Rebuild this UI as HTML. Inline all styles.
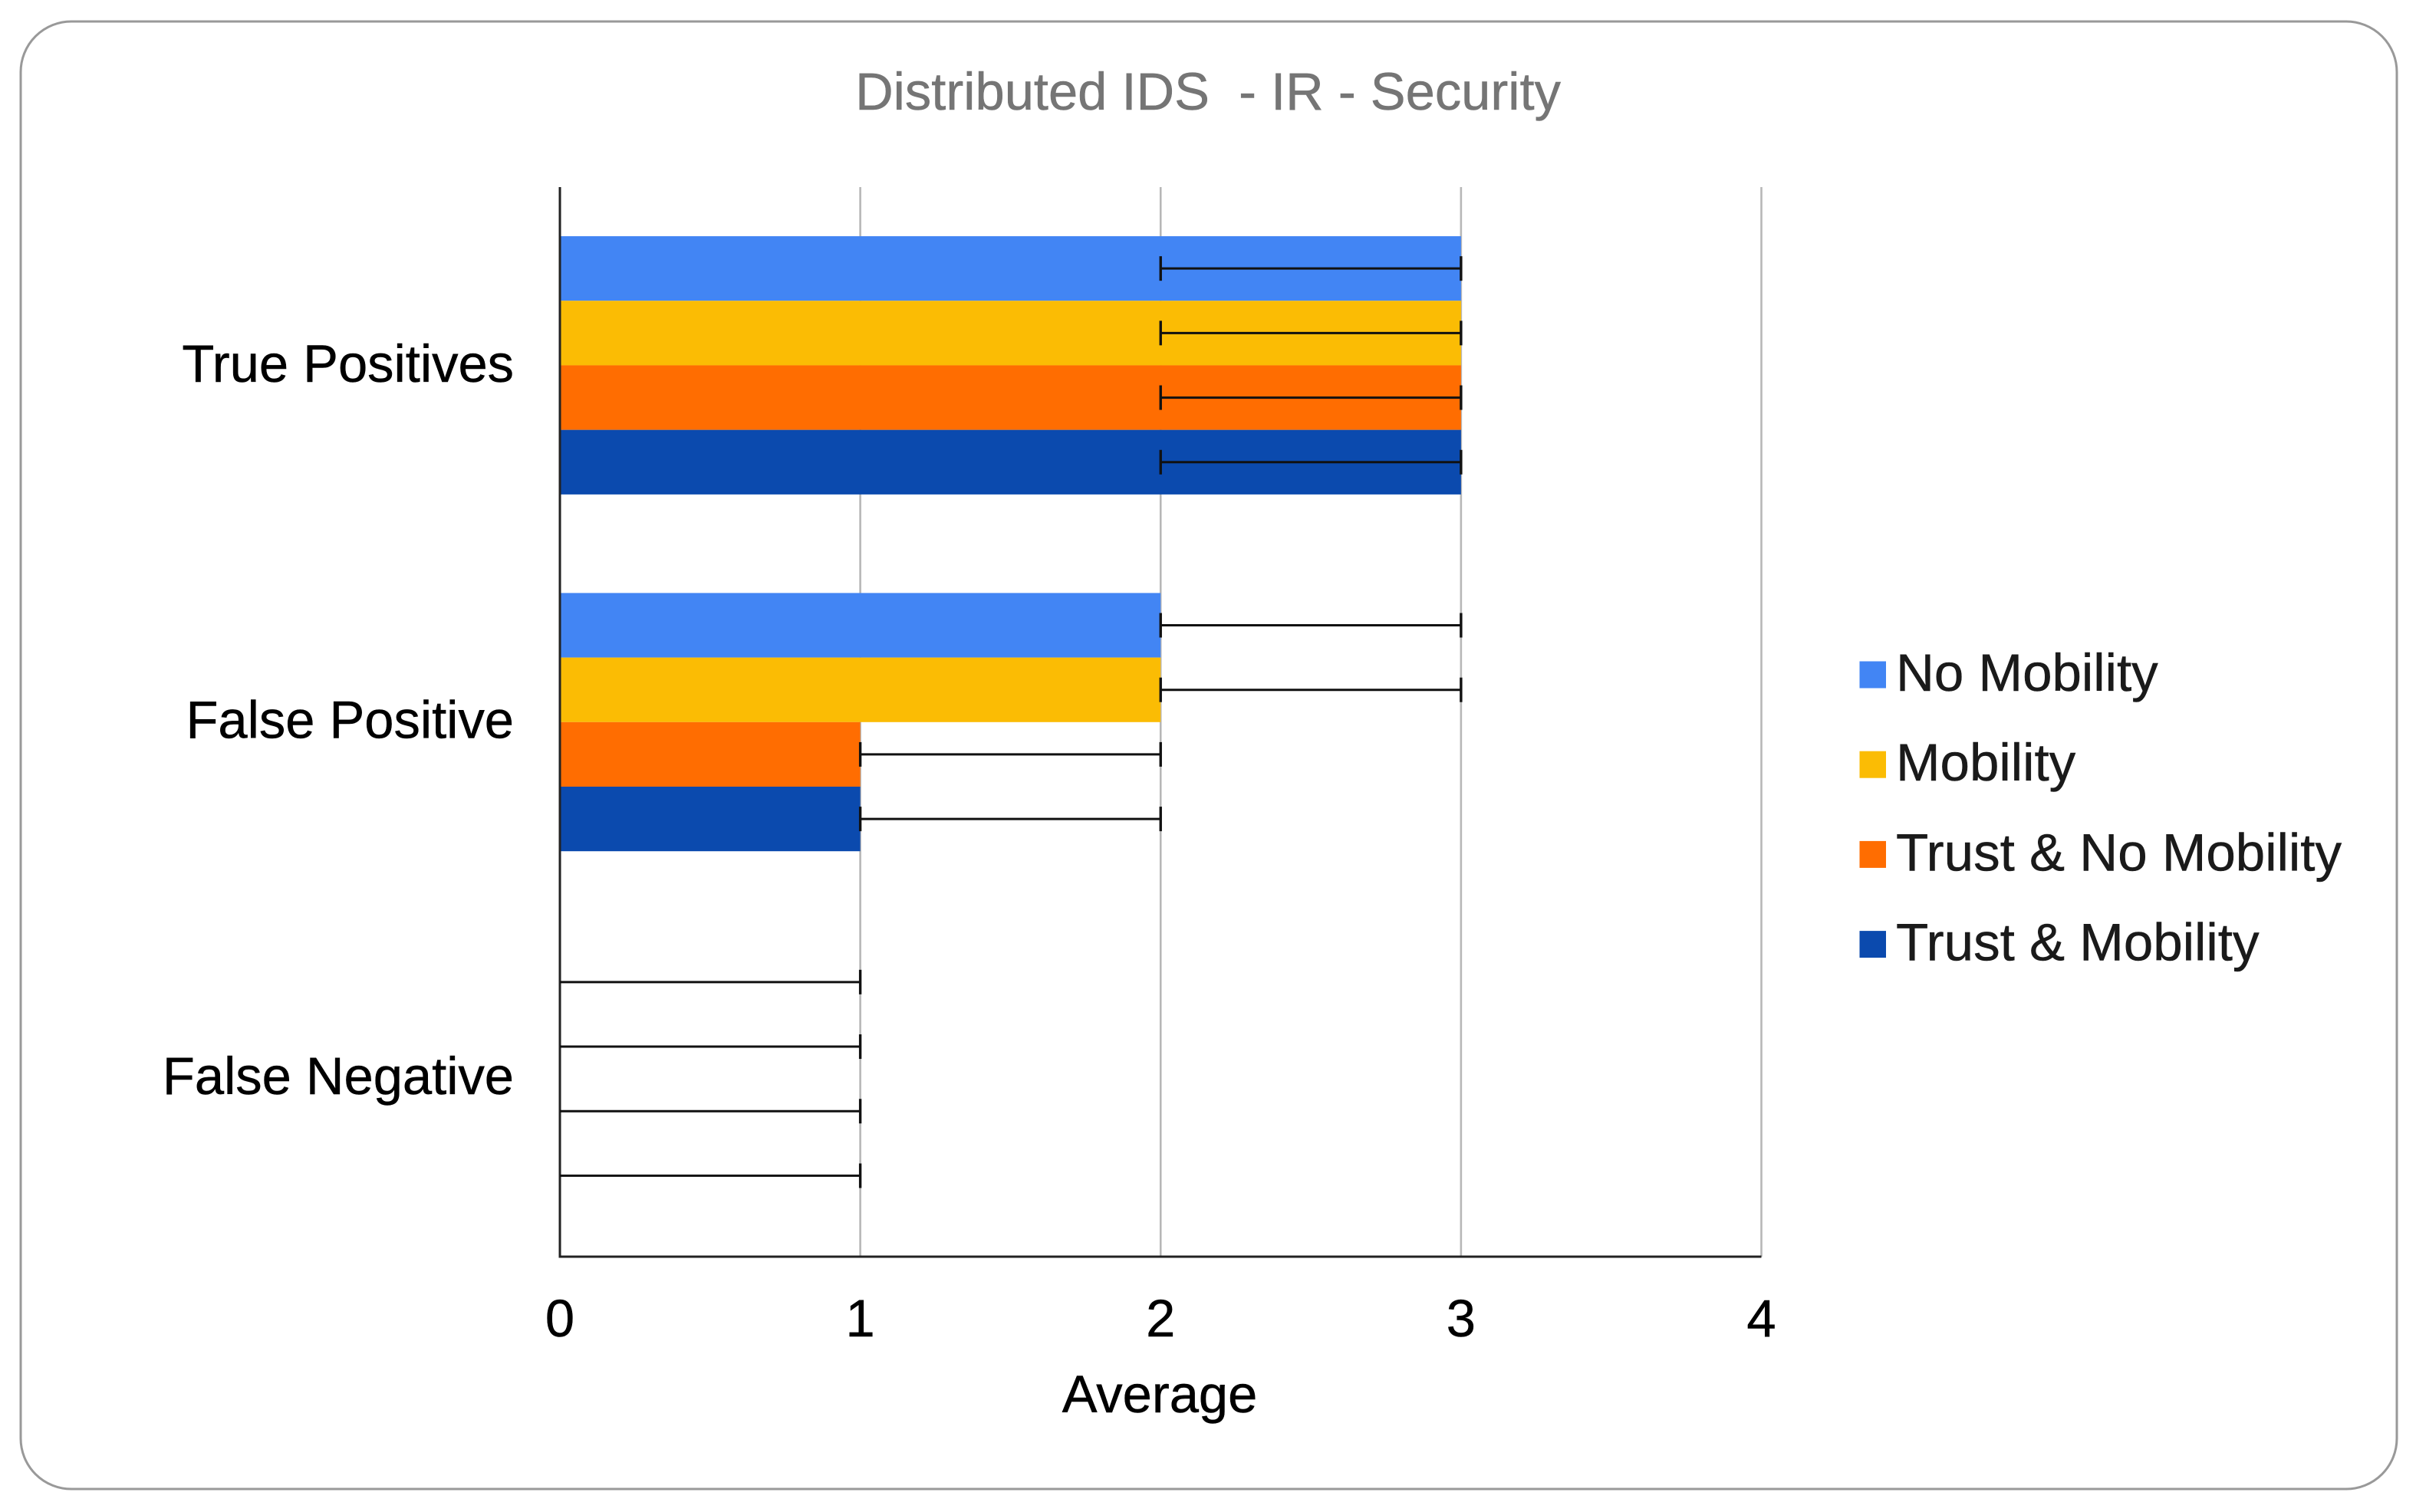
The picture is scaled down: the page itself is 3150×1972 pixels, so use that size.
<!DOCTYPE html>
<html lang="en">
<head>
<meta charset="utf-8">
<title>Distributed IDS - IR - Security</title>
<style>
html,body{margin:0;padding:0;background:#fff;width:3150px;height:1972px;overflow:hidden}
svg{display:block;position:absolute;left:0;top:0}
text{font-family:"Liberation Sans",Arial,sans-serif;font-size:68.7px;white-space:pre;stroke:currentColor;stroke-width:0.5px}
</style>
</head>
<body>
<svg id="chart" width="3150" height="1972" viewBox="0 0 3150 1972" xmlns="http://www.w3.org/2000/svg">
  <rect x="27" y="28" width="3098" height="1914" rx="66" ry="66" fill="#ffffff" stroke="#999999" stroke-width="3"/>
  <text x="1575" y="143" text-anchor="middle" fill="#757575" color="#757575" xml:space="preserve">Distributed IDS  - IR - Security</text>
  <g id="grid"></g>
  <g id="bars"></g>
  <g id="axes"></g>
  <g id="errors"></g>
  <g id="labels"></g>
  <text x="1512" y="1842" text-anchor="middle" fill="#000000" color="#000000">Average</text>
  <g id="legend"></g>
</svg>
<script>
const categories = ["True Positives", "False Positive", "False Negative"];
const seriesNames = ["No Mobility", "Mobility", "Trust & No Mobility", "Trust & Mobility"];
const seriesColors = ["#4285f4", "#fbbc04", "#ff6d01", "#0b4aae"];
const noMobility = [3, 2, 0];
const mobility = [3, 2, 0];
const trustNoMobility = [3, 1, 0];
const trustMobility = [3, 1, 0];
const errLowNoMobility = [2, 2, 0];
const errLowMobility = [2, 2, 0];
const errLowTrustNoMobility = [2, 1, 0];
const errLowTrustMobility = [2, 1, 0];
const errHighNoMobility = [3, 3, 1];
const errHighMobility = [3, 3, 1];
const errHighTrustNoMobility = [3, 2, 1];
const errHighTrustMobility = [3, 2, 1];
const xTicks = [0, 1, 2, 3, 4];
const xMax = 4;

const seriesValues = [noMobility, mobility, trustNoMobility, trustMobility];
const seriesLow = [errLowNoMobility, errLowMobility, errLowTrustNoMobility, errLowTrustMobility];
const seriesHigh = [errHighNoMobility, errHighMobility, errHighTrustNoMobility, errHighTrustMobility];

const NS = "http://www.w3.org/2000/svg";
const plotLeft = 730, plotRight = 2296.5, plotTop = 243, plotBottom = 1639;
const band = (plotBottom - plotTop) / categories.length;
const barH = 84.2;

function xScale(v) { return plotLeft + (plotRight - plotLeft) * v / xMax; }
function catCenter(i) { return plotTop + band * (i + 0.5); }
function barTop(c, s) { return catCenter(c) + 0.8 - barH * seriesValues.length / 2 + barH * s; }

function make(parentId, tag, attrs) {
  const el = document.createElementNS(NS, tag);
  for (const k in attrs) el.setAttribute(k, attrs[k]);
  document.getElementById(parentId).appendChild(el);
  return el;
}

xTicks.forEach(function (t) {
  if (t === 0) return;
  const line = make("grid", "line", { x1: xScale(t), x2: xScale(t), y1: plotTop + 1, y2: plotBottom, stroke: "#b7b7b7", "stroke-width": 2.6 });
  
  
});

categories.forEach(function (cat, c) {
  seriesValues.forEach(function (vals, s) {
    const w = xScale(vals[c]) - plotLeft;
    if (w > 0) {
      const bar = make("bars", "rect", { x: plotLeft, y: barTop(c, s), width: w, height: barH, fill: seriesColors[s] });
      
      
    }
  });
});

const yAxis = make("axes", "line", { x1: plotLeft, x2: plotLeft, y1: plotTop + 1, y2: plotBottom + 1.5, stroke: "#222222", "stroke-width": 3 });


const xAxis = make("axes", "line", { x1: plotLeft, x2: plotRight, y1: plotBottom, y2: plotBottom, stroke: "#222222", "stroke-width": 3 });



categories.forEach(function (cat, c) {
  seriesValues.forEach(function (vals, s) {
    const y = barTop(c, s) + barH / 2;
    const lo = xScale(seriesLow[s][c]);
    const hi = xScale(seriesHigh[s][c]);
    const stem = make("errors", "line", { x1: lo, x2: hi, y1: y, y2: y, stroke: "#111111", "stroke-width": 3 });
    
    
    if (seriesLow[s][c] > 0) {
      const capLo = make("errors", "line", { x1: lo, x2: lo, y1: y - 16, y2: y + 16, stroke: "#111111", "stroke-width": 3.4 });
      
      
    }
    const capHi = make("errors", "line", { x1: hi, x2: hi, y1: y - 16, y2: y + 16, stroke: "#111111", "stroke-width": 3.4 });
    
    
  });
});

categories.forEach(function (cat, c) {
  const t = make("labels", "text", { x: 670, y: catCenter(c) + 22.5 - c, "text-anchor": "end", fill: "#000000", color: "#000000" });
  t.textContent = cat;
  
  
});

xTicks.forEach(function (tick) {
  const t = make("labels", "text", { x: xScale(tick), y: 1743, "text-anchor": "middle", fill: "#000000", color: "#000000" });
  t.textContent = String(tick);
  
  
});

seriesNames.forEach(function (name, i) {
  const rowY = 880 + 117.2 * i;
  const swatch = make("legend", "rect", { x: 2424.5, y: rowY - 17.5, width: 34.5, height: 35, fill: seriesColors[i] });
  
  
  const t = make("legend", "text", { x: 2472, y: rowY + 21, fill: "#1a1a1a", color: "#1a1a1a", style: "font-size:69.1px" });
  t.textContent = name;
  
  
});
</script>
</body>
</html>
